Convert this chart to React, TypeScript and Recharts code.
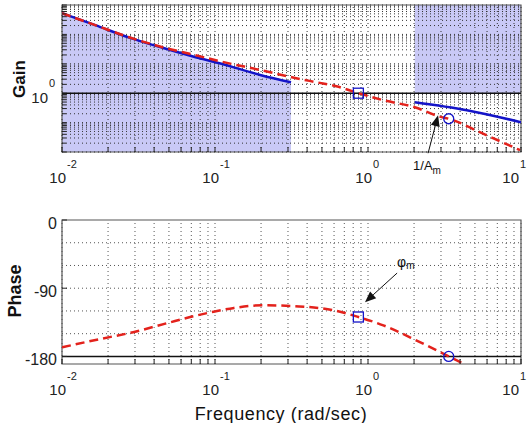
import React from 'react'
import { ComposedChart, Line, Area, Scatter, XAxis, YAxis, ReferenceLine, ReferenceArea } from 'recharts'

// frequency axis (rad/sec), log
const freqTicks = [0.01, 0.1, 1, 10]
const freqExp = ['-2', '-1', '0', '1']

// gain plot
const gainDecades = [0.01, 0.1, 1, 10, 100, 1000]
const redFreq = [0.01, 0.0165, 0.0275, 0.0454, 0.0747, 0.107, 0.2, 0.339, 0.458, 0.621, 0.865, 1.26, 2.02, 2.94, 3.37, 5.56, 9.86]
const redGain = [526, 206, 80, 36.7, 19.6, 12.3, 6.06, 3.24, 2.37, 1.73, 1.0, 0.578, 0.334, 0.16, 0.135, 0.0436, 0.0115]
const blueLeftFreq = [0.01, 0.0165, 0.0275, 0.0454, 0.0747, 0.107, 0.2, 0.314]
const blueLeftGain = [526, 206, 78, 35, 16.8, 10.5, 4.1, 2.37]
const blueRightFreq = [2.02, 4.43, 10]
const blueRightGain = [0.494, 0.264, 0.103]
const gainMarkFreq = [0.865, 3.37]
const gainMarkVal = [1.0, 0.135]
const gainMarkType = ['square', 'circle']

// phase plot
const phaseTicks = [0, -90, -180]
const phaseGrid = [-30, -60, -90, -120, -150]
const phaseFreq = [0.01, 0.0178, 0.0292, 0.0489, 0.0725, 0.098, 0.133, 0.208, 0.354, 0.592, 0.865, 1.26, 2.08, 3.37, 4.23]
const phaseVal = [-168, -157, -148, -136, -127, -121, -116, -112.5, -114, -119, -128, -139, -159, -180, -190]
const phaseMarkVal = [-128, -180]

// annotation arrows [tail, tip]
const amArrow = [{ x: 2.47, y: 0.0091 }, { x: 2.87, y: 0.179 }]
const pmArrow = [{ x: 1.55, y: -70 }, { x: 0.956, y: -108.5 }]

const minors = (decades: number[]) =>
  decades.slice(0, -1).flatMap((d) => [2, 3, 4, 5, 6, 7, 8, 9].map((k) => k * d))

const freqMinor = minors(freqTicks)
const gainMinor = minors(gainDecades)
const allFreq = [...freqTicks, ...freqMinor].sort((a, b) => a - b)
const allGain = [...gainDecades, ...gainMinor].sort((a, b) => a - b)

const zip = (xs: number[], ys: number[]) => xs.map((f, i) => ({ f, g: ys[i] }))
const redData = zip(redFreq, redGain)
const blueLeftData = zip(blueLeftFreq, blueLeftGain)
const blueRightData = zip(blueRightFreq, blueRightGain)
const gainMarks = gainMarkFreq.map((f, i) => ({ f, g: gainMarkVal[i], m: gainMarkType[i] }))
const phaseData = zip(phaseFreq, phaseVal)
const phaseMarks = gainMarkFreq.map((f, i) => ({ f, g: phaseMarkVal[i], m: gainMarkType[i] }))

const RED = '#e3221c'
const BLUE = '#1414c8'
const SHADE = '#c9c9f6'
const FONT = '"Liberation Sans", Arial, sans-serif'

const same = (a: number, b: number) => Math.abs(a - b) / Math.abs(b || 1) < 1e-6

function FreqTick(props: any) {
  const { x, y, payload } = props
  const i = freqTicks.findIndex((t) => same(payload.value, t))
  // keep the last label inside the page
  const lx = Math.min(x + 4, 519)
  return (
    <g>
      <line x1={x} x2={x} y1={y} y2={y - 5} stroke="#222" />
      {i >= 0 && (
        <>
          <text x={lx} y={y + 31} textAnchor="end" fontSize={15} fill="#222" fontFamily={FONT}>10</text>
          <text x={lx + 1} y={y + 16} fontSize={11} fill="#222" fontFamily={FONT}>{freqExp[i]}</text>
        </>
      )}
    </g>
  )
}

function GainTick(props: any) {
  const { x, y, payload } = props
  return (
    <g>
      <line x1={x} x2={x + 4} y1={y} y2={y} stroke="#222" />
      {same(payload.value, 1) && (
        <>
          <text x={x - 14} y={y + 10} textAnchor="end" fontSize={15} fill="#222" fontFamily={FONT}>10</text>
          <text x={x - 13} y={y - 6} fontSize={11} fill="#222" fontFamily={FONT}>0</text>
        </>
      )}
    </g>
  )
}

function PhaseTick(props: any) {
  const { x, y, payload } = props
  return (
    <g>
      <line x1={x} x2={x + 5} y1={y} y2={y} stroke="#222" />
      <text x={x - 5} y={y + 9} textAnchor="end" fontSize={16} fill="#222" fontFamily={FONT}>{payload.value}</text>
    </g>
  )
}

function Marker(props: any) {
  const { cx, cy, payload } = props
  if (payload.m === 'square') {
    return <rect x={cx - 5} y={cy - 5} width={10} height={10} fill="none" stroke={BLUE} strokeWidth={1.3} />
  }
  return <circle cx={cx} cy={cy} r={5} fill="none" stroke={BLUE} strokeWidth={1.3} />
}

const arrowShape = (label: 'am' | 'pm') => (props: any) => {
  const { x1, y1, x2, y2 } = props
  const a = Math.atan2(y2 - y1, x2 - x1)
  const L = 11
  const W = 4.5
  const bx = x2 - L * Math.cos(a)
  const by = y2 - L * Math.sin(a)
  const px = -Math.sin(a) * W
  const py = Math.cos(a) * W
  return (
    <g>
      <line x1={x1} y1={y1} x2={bx} y2={by} stroke="#111" strokeWidth={1} />
      <polygon points={`${x2},${y2} ${bx + px},${by + py} ${bx - px},${by - py}`} fill="#111" />
      {label === 'am' ? (
        <text x={x1 - 15} y={y1 + 17} fontSize={13} fill="#111" fontFamily={FONT}>
          1/A<tspan fontSize={10} dy={4}>m</tspan>
        </text>
      ) : (
        <text x={x1} y={y1 - 6} fontSize={14} fill="#111" fontFamily={FONT}>
          φ<tspan fontSize={10} dy={2}>m</tspan>
        </text>
      )}
    </g>
  )
}

const dotted = { stroke: '#333', strokeDasharray: '1 3', strokeWidth: 1 }

export default function App() {
  return (
    <div style={{ position: 'absolute', left: 0, top: 0, width: 530, height: 423, background: '#fff', fontFamily: FONT, color: '#111' }}>
      <div style={{ position: 'absolute', left: 0, top: 0 }}>
        <ComposedChart width={530} height={200} margin={{ top: 5, right: 9, left: 0, bottom: 0 }}>
          <XAxis type="number" dataKey="f" scale="log" domain={[0.01, 10]} ticks={allFreq} interval={0}
            tick={<FreqTick />} tickLine={false} axisLine={false} tickSize={0} tickMargin={0} height={48} allowDataOverflow />
          <YAxis type="number" scale="log" domain={[0.01, 1000]} ticks={allGain} interval={0}
            tick={<GainTick />} tickLine={false} axisLine={false} tickSize={0} tickMargin={0} width={62} allowDataOverflow />
          <Area data={blueLeftData} dataKey="g" baseValue={0.01} type="monotone" fill={SHADE} fillOpacity={1} stroke="none" isAnimationActive={false} />
          <ReferenceArea x1={blueRightFreq[0]} x2={10} y1={1} y2={1000} fill={SHADE} fillOpacity={1} stroke="none" />
          {allFreq.map((v) => <ReferenceLine key={'vx' + v} x={v} {...dotted} />)}
          {allGain.map((v) => <ReferenceLine key={'hy' + v} y={v} {...dotted} />)}
          <ReferenceLine y={1} stroke="#111" strokeWidth={1.5} />
          <ReferenceArea x1={0.01} x2={10} y1={0.01} y2={1000} fill="none" stroke="#555" strokeWidth={1.2} ifOverflow="visible" />
          <Line data={blueLeftData} dataKey="g" type="monotone" stroke={BLUE} strokeWidth={2.5} dot={false} isAnimationActive={false} />
          <Line data={blueRightData} dataKey="g" type="monotone" stroke={BLUE} strokeWidth={2.5} dot={false} isAnimationActive={false} />
          <Line data={redData} dataKey="g" type="monotone" stroke={RED} strokeWidth={2.5} strokeDasharray="9 5" dot={false} isAnimationActive={false} />
          <Scatter data={gainMarks} dataKey="g" shape={Marker} isAnimationActive={false} />
          <ReferenceLine segment={amArrow} ifOverflow="visible" shape={arrowShape('am')} />
        </ComposedChart>
      </div>
      <div style={{ position: 'absolute', left: 0, top: 200 }}>
        <ComposedChart width={530} height={223} margin={{ top: 20, right: 9, left: 0, bottom: 0 }}>
          <XAxis type="number" dataKey="f" scale="log" domain={[0.01, 10]} ticks={allFreq} interval={0}
            tick={<FreqTick />} tickLine={false} axisLine={false} tickSize={0} tickMargin={0} height={59} allowDataOverflow />
          <YAxis type="number" domain={[-190, 0]} ticks={phaseTicks} interval={0}
            tick={<PhaseTick />} tickLine={false} axisLine={false} tickSize={0} tickMargin={0} width={62} allowDataOverflow />
          {allFreq.map((v) => <ReferenceLine key={'pvx' + v} x={v} {...dotted} stroke="#555" />)}
          {phaseGrid.map((v) => <ReferenceLine key={'phy' + v} y={v} {...dotted} stroke="#555" />)}
          <ReferenceLine y={-180} stroke="#111" strokeWidth={1.5} />
          <ReferenceArea x1={0.01} x2={10} y1={-190} y2={0} fill="none" stroke="#555" strokeWidth={1.2} ifOverflow="visible" />
          <Line data={phaseData} dataKey="g" type="monotone" stroke={RED} strokeWidth={2.5} strokeDasharray="9 5" dot={false} isAnimationActive={false} />
          <Scatter data={phaseMarks} dataKey="g" shape={Marker} isAnimationActive={false} />
          <ReferenceLine segment={pmArrow} ifOverflow="visible" shape={arrowShape('pm')} />
        </ComposedChart>
      </div>
      <div style={{ position: 'absolute', left: 19, top: 79, transform: 'translate(-50%, -50%) rotate(-90deg)', fontWeight: 'bold', fontSize: 17, whiteSpace: 'nowrap', lineHeight: 1 }}>Gain</div>
      <div style={{ position: 'absolute', left: 15, top: 291, transform: 'translate(-50%, -50%) rotate(-90deg)', fontWeight: 'bold', fontSize: 18, whiteSpace: 'nowrap', lineHeight: 1 }}>Phase</div>
      <div style={{ position: 'absolute', left: 281, top: 414, transform: 'translate(-50%, -50%)', fontSize: 18, letterSpacing: 0.6, whiteSpace: 'nowrap', lineHeight: 1 }}>Frequency (rad/sec)</div>
    </div>
  )
}
